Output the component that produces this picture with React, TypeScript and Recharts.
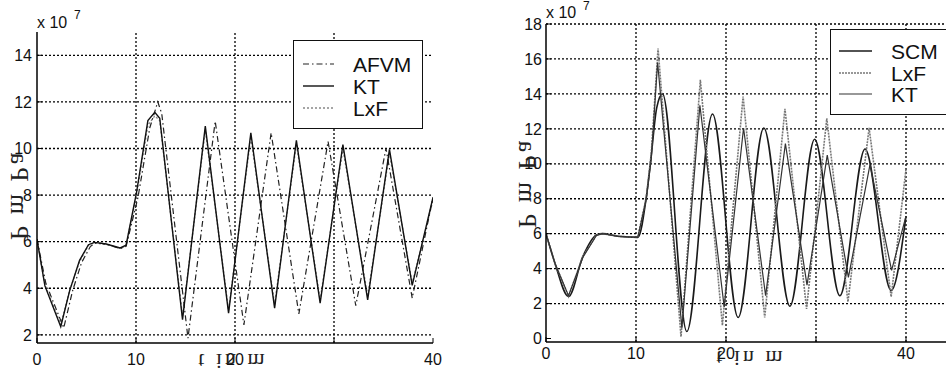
import React from 'react';
import { LineChart, Line, XAxis, YAxis, ReferenceLine, Legend } from 'recharts';

// left panel: pressure vs time, three schemes (values x 1e7)
const leftKtT = [0, 0.8, 2.4, 3.3, 4.3, 5.2, 5.8, 7, 8.4, 9.0, 10.05, 11.2, 11.9, 12.4, 14.7, 17.0, 19.35, 21.6, 24.0, 26.2, 28.6, 30.9, 33.4, 35.6, 37.9, 40];
const leftKt = [6.1, 4.1, 2.35, 3.9, 5.2, 5.87, 5.97, 5.9, 5.73, 5.85, 8.1, 11.2, 11.55, 11.3, 2.65, 10.96, 2.93, 10.67, 3.15, 10.35, 3.36, 10.17, 3.5, 9.96, 4.12, 7.9];
const leftLxf = [6.1, 4.15, 2.45, 3.9, 5.15, 5.85, 5.95, 5.88, 5.72, 5.83, 8.0, 11.0, 11.4, 11.2, 2.8, 10.8, 3.05, 10.5, 3.3, 10.2, 3.5, 10.0, 3.65, 9.8, 4.2, 7.8];
const leftAfvmT = [0, 0.9, 2.7, 3.6, 4.5, 5.4, 6, 7, 8.4, 9.0, 10.2, 11.4, 12.2, 12.6, 15.25, 18.0, 20.9, 23.65, 26.45, 29.4, 32.2, 35.25, 37.9, 40];
const leftAfvm = [6.1, 4.2, 2.3, 3.9, 5.1, 5.8, 5.95, 5.9, 5.7, 5.8, 7.9, 10.9, 12.0, 11.5, 1.86, 11.17, 2.43, 10.67, 2.9, 10.3, 3.25, 10.0, 3.58, 7.9];

// right panel
const rightLxfT = [0, 1.0, 2.5, 4.1, 5.6, 6.3, 8, 10.2, 11.15, 11.7, 12.45, 15.0, 17.15, 19.6, 21.9, 24.3, 26.55, 28.95, 31.2, 33.55, 35.9, 38.35, 40];
const rightLxf = [6.0, 4.3, 2.4, 4.7, 5.92, 6.0, 5.85, 5.79, 8.1, 10.6, 16.6, 0.1, 14.8, 0.75, 13.85, 1.2, 13.15, 1.7, 12.6, 2.1, 12.05, 2.38, 9.7];
const rightKtT = [0, 1.0, 2.5, 4.1, 5.6, 6.3, 8, 10.2, 11.15, 11.7, 12.4, 15.1, 17.1, 19.8, 21.95, 24.4, 26.6, 29.0, 31.25, 33.6, 36.0, 38.4, 40];
const rightKt = [6.0, 4.3, 2.45, 4.65, 5.9, 6.0, 5.85, 5.79, 8.0, 10.3, 15.8, 0.6, 13.35, 1.8, 12.05, 2.45, 11.15, 3.05, 10.5, 3.5, 9.95, 3.9, 7.0];
const rightScmT = [0, 1.0, 2.5, 4.1, 5.6, 6.3, 8, 10.2, 11.15, 11.7, 12.3, 12.95, 15.65, 18.5, 21.35, 24.2, 27.1, 29.85, 32.65, 35.45, 38.35, 40];
const rightScm = [6.0, 4.3, 2.4, 4.7, 5.92, 6.0, 5.85, 5.79, 8.1, 10.5, 13.2, 14.0, 0.4, 12.85, 1.2, 12.05, 1.85, 11.4, 2.45, 10.85, 2.75, 7.0];

const xTicks = [0, 10, 20, 30, 40];
const xTickLabels = ['0', '10', '20', '', '40'];
const leftYTicks = [2, 4, 6, 8, 10, 12, 14];
const rightYTicks = [0, 2, 4, 6, 8, 10, 12, 14, 16, 18];

const toPoints = (ts: number[], vs: number[]) => ts.map((t, i) => ({ t, v: vs[i] }));

const font = 'Liberation Sans, Arial, Helvetica, sans-serif';
const serif = 'Liberation Serif, Times New Roman, serif';
const tickStyle = { fontSize: 16, fill: '#111', fontFamily: font };
const axisLine = { stroke: '#000', strokeWidth: 1.5 };
const gridProps = { stroke: '#000', strokeWidth: 1.3, strokeDasharray: '2 2', ifOverflow: 'visible' as const };

const leftLegend = [
  { name: 'AFVM', stroke: '#222', dash: '6 3 1.5 3', width: 1.2 },
  { name: 'KT', stroke: '#111', dash: undefined, width: 1.4 },
  { name: 'LxF', stroke: '#888', dash: '2 2', width: 1.4 },
];
const rightLegend = [
  { name: 'SCM', stroke: '#1a1a1a', dash: undefined, width: 1.6 },
  { name: 'LxF', stroke: '#777', dash: '2 1', width: 1.6 },
  { name: 'KT', stroke: '#333', dash: undefined, width: 1.2 },
];

function LegendBox({ items, width, height, lineX, textX, rowY }: any) {
  return (
    <div style={{ width, height, border: '1.5px solid #111', background: '#fff', boxSizing: 'border-box' }}>
      <svg width={width} height={height} style={{ display: 'block' }}>
        {items.map((it: any, i: number) => (
          <g key={it.name}>
            <line x1={lineX[0]} x2={lineX[1]} y1={rowY[i]} y2={rowY[i]} stroke={it.stroke} strokeWidth={it.width} strokeDasharray={it.dash} />
            <text x={textX} y={rowY[i]} dominantBaseline="central" fontSize={21} fontFamily={font} fill="#111">
              {it.name}
            </text>
          </g>
        ))}
      </svg>
    </div>
  );
}

export default function App() {
  return (
    <div style={{ position: 'absolute', left: 0, top: 0, width: 946, height: 373, overflow: 'hidden', background: '#fff' }}>
      {/* left panel */}
      <div style={{ position: 'absolute', left: 0, top: 0 }}>
        <LineChart width={473} height={373} margin={{ top: 32, right: 40, bottom: 0, left: 0 }}>
          <XAxis
            dataKey="t"
            type="number"
            domain={[0, 40]}
            ticks={xTicks}
            tickFormatter={(v: number) => xTickLabels[xTicks.indexOf(v)]}
            height={30}
            allowDataOverflow
            axisLine={axisLine}
            tickLine={{ stroke: '#000' }}
            tickSize={-5}
            tickMargin={16}
            tick={tickStyle}
          />
          <XAxis xAxisId="top" orientation="top" type="number" domain={[0, 40]} ticks={xTicks} height={0} allowDataOverflow axisLine={axisLine} tickLine={{ stroke: '#000' }} tickSize={-5} tick={false} />
          <YAxis
            dataKey="v"
            type="number"
            domain={[1.65, 15]}
            ticks={leftYTicks}
            width={37}
            allowDataOverflow
            axisLine={axisLine}
            tickLine={{ stroke: '#000' }}
            tickSize={-5}
            tickMargin={10}
            tick={tickStyle}
          />
          <YAxis yAxisId="right" orientation="right" type="number" domain={[1.65, 15]} ticks={leftYTicks} width={0} allowDataOverflow axisLine={axisLine} tickLine={{ stroke: '#000' }} tickSize={-5} tick={false} />
          {leftYTicks.map((v) => (
            <ReferenceLine key={`ly${v}`} y={v} {...gridProps} />
          ))}
          {xTicks.slice(1, 4).map((v) => (
            <ReferenceLine key={`lx${v}`} x={v} {...gridProps} />
          ))}
          <Line data={toPoints(leftKtT, leftLxf)} dataKey="v" name="LxF" type="linear" stroke="#888" strokeWidth={1.4} strokeDasharray="2 2" dot={false} isAnimationActive={false} />
          <Line data={toPoints(leftAfvmT, leftAfvm)} dataKey="v" name="AFVM" type="linear" stroke="#222" strokeWidth={1.2} strokeDasharray="6 3 1.5 3" dot={false} isAnimationActive={false} />
          <Line data={toPoints(leftKtT, leftKt)} dataKey="v" name="KT" type="linear" stroke="#111" strokeWidth={1.4} dot={false} isAnimationActive={false} />
          <Legend
            layout="vertical"
            align="center"
            verticalAlign="middle"
            wrapperStyle={{ left: 293, top: 40, width: 130, height: 89 }}
            content={() => <LegendBox items={leftLegend} width={130} height={89} lineX={[9, 40]} textX={59} rowY={[23, 45, 67]} />}
          />
        </LineChart>
      </div>

      {/* right panel */}
      <div style={{ position: 'absolute', left: 473, top: 0 }}>
        <LineChart width={478} height={373} margin={{ top: 24, right: 0, bottom: 0, left: 0 }}>
          <XAxis
            dataKey="t"
            type="number"
            domain={[0, 45]}
            ticks={xTicks}
            tickFormatter={(v: number) => xTickLabels[xTicks.indexOf(v)]}
            height={31}
            allowDataOverflow
            axisLine={axisLine}
            tickLine={{ stroke: '#000' }}
            tickSize={-5}
            tickMargin={11}
            tick={tickStyle}
          />
          <XAxis xAxisId="top" orientation="top" type="number" domain={[0, 45]} ticks={xTicks} height={0} allowDataOverflow axisLine={axisLine} tickLine={{ stroke: '#000' }} tickSize={-5} tick={false} />
          <YAxis
            dataKey="v"
            type="number"
            domain={[-0.2, 18]}
            ticks={rightYTicks}
            width={73}
            allowDataOverflow
            axisLine={axisLine}
            tickLine={{ stroke: '#000' }}
            tickSize={-5}
            tickMargin={9}
            tick={tickStyle}
          />
          {rightYTicks.slice(1).map((v) => (
            <ReferenceLine key={`ry${v}`} y={v} {...gridProps} />
          ))}
          {xTicks.slice(1).map((v) => (
            <ReferenceLine key={`rx${v}`} x={v} {...gridProps} />
          ))}
          <Line data={toPoints(rightScmT, rightScm)} dataKey="v" name="SCM" type="monotone" stroke="#1a1a1a" strokeWidth={1.6} dot={false} isAnimationActive={false} />
          <Line data={toPoints(rightLxfT, rightLxf)} dataKey="v" name="LxF" type="linear" stroke="#777" strokeWidth={1.6} strokeDasharray="2 1" dot={false} isAnimationActive={false} />
          <Line data={toPoints(rightKtT, rightKt)} dataKey="v" name="KT" type="linear" stroke="#333" strokeWidth={1.2} dot={false} isAnimationActive={false} />
          <Legend
            layout="vertical"
            align="center"
            verticalAlign="middle"
            wrapperStyle={{ left: 357, top: 29, width: 125, height: 86 }}
            content={() => <LegendBox items={rightLegend} width={125} height={86} lineX={[8, 41]} textX={60} rowY={[21, 43, 64]} />}
          />
        </LineChart>
      </div>

      {/* exponent marks and the scanned (mirrored) axis titles */}
      <svg width={946} height={373} style={{ position: 'absolute', left: 0, top: 0, pointerEvents: 'none' }}>
        <text x={37} y={28} fontSize={16} fontFamily={font} fill="#111">x 10</text>
        <text x={74} y={19} fontSize={12} fontFamily={font} fill="#111">7</text>
        <text x={546} y={18} fontSize={16} fontFamily={font} fill="#111">x 10</text>
        <text x={583} y={10} fontSize={12} fontFamily={font} fill="#111">7</text>
        <text transform="translate(19,195) rotate(-90) scale(1,-1)" textAnchor="middle" dominantBaseline="central" fontSize={26} letterSpacing={3} fontFamily={serif} fill="#222">P m Pa</text>
        <text transform="translate(527,183) rotate(-90) scale(1,-1)" textAnchor="middle" dominantBaseline="central" fontSize={26} letterSpacing={3} fontFamily={serif} fill="#222">P m Pa</text>
        <text transform="translate(233,361) scale(1,-1)" textAnchor="middle" dominantBaseline="central" fontSize={22} letterSpacing={3} fontFamily={serif} fill="#222">t in m</text>
        <text transform="translate(751,358) scale(1,-1)" textAnchor="middle" dominantBaseline="central" fontSize={22} letterSpacing={3} fontFamily={serif} fill="#222">t in m</text>
      </svg>
    </div>
  );
}
